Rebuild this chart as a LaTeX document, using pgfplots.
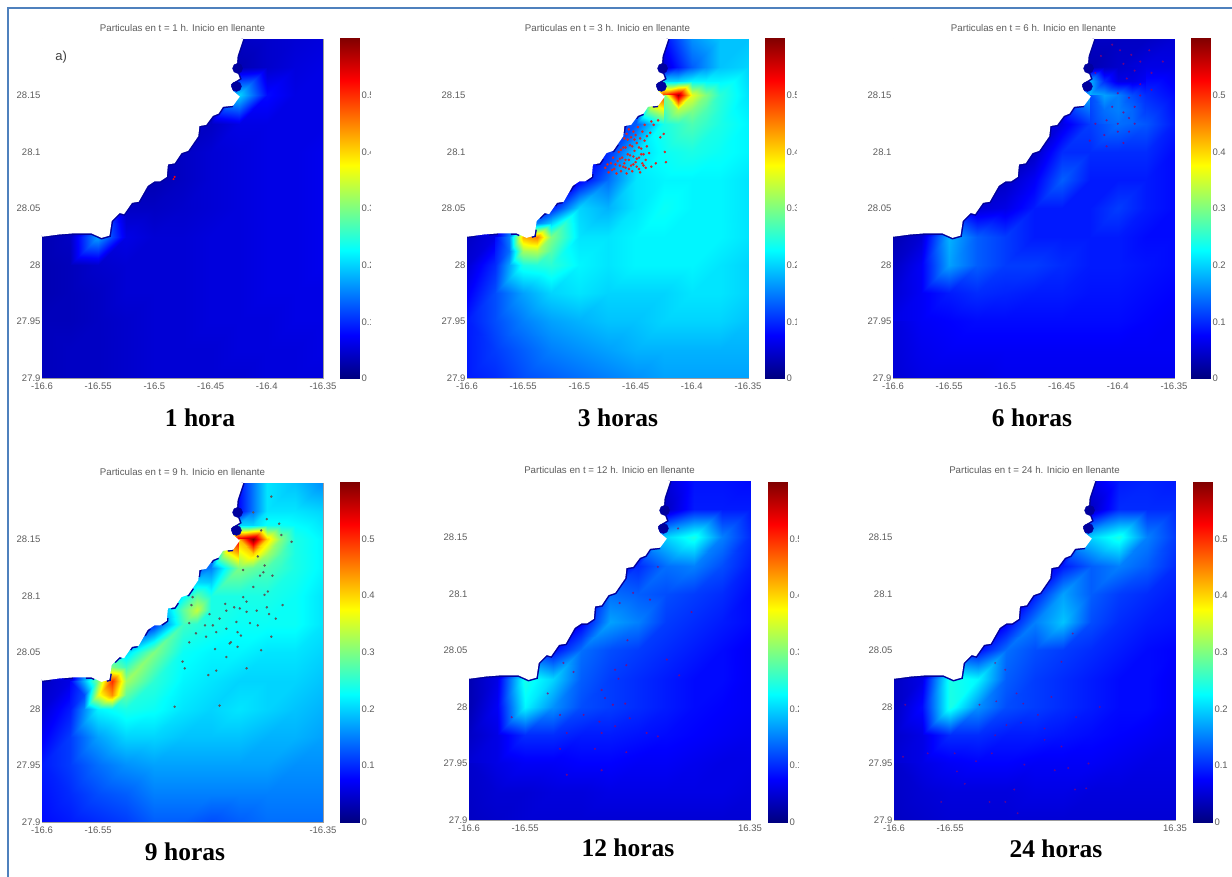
\documentclass[border=0pt]{standalone}
\usepackage{fontspec}
\setmainfont{Liberation Sans}
\newfontfamily\capfont{Liberation Serif}
\usepackage{pgfplots}
\usepackage{pgfplotstable}
\pgfplotsset{compat=1.18}

\definecolor{framecol}{HTML}{4F81BD}
\definecolor{tickcol}{gray}{0.36}
\definecolor{coastcol}{rgb}{0,0,0.62}

% velocity fields, rows from lat 28.2 down to 27.9, lon -16.6 to -16.35 (step 0.025)
\pgfplotstableread[row sep=\\,header=false]{
.05\\.05\\.05\\.05\\.05\\.05\\.05\\.04\\.045\\.05\\.055\\
.05\\.05\\.05\\.05\\.05\\.05\\.05\\.03\\.045\\.055\\.06\\
.05\\.05\\.05\\.05\\.05\\.05\\.05\\.2\\.08\\.06\\.06\\
.05\\.05\\.05\\.05\\.05\\.05\\.04\\.06\\.06\\.06\\.06\\
.05\\.05\\.05\\.05\\.05\\.04\\.05\\.055\\.06\\.06\\.065\\
.05\\.05\\.05\\.05\\.03\\.04\\.05\\.055\\.06\\.06\\.065\\
.05\\.05\\.05\\.04\\.04\\.045\\.05\\.055\\.06\\.06\\.065\\
.03\\.04\\.17\\.06\\.05\\.05\\.055\\.055\\.06\\.06\\.065\\
.03\\.035\\.045\\.05\\.05\\.05\\.055\\.055\\.06\\.06\\.065\\
.03\\.035\\.04\\.05\\.05\\.05\\.055\\.055\\.06\\.06\\.06\\
.035\\.035\\.04\\.045\\.05\\.05\\.055\\.055\\.055\\.06\\.06\\
.035\\.04\\.04\\.045\\.05\\.05\\.05\\.055\\.055\\.055\\.06\\
.035\\.04\\.04\\.045\\.05\\.05\\.05\\.05\\.055\\.055\\.055\\
}\fieldA
\pgfplotstableread[row sep=\\,header=false]{
.1\\.1\\.1\\.1\\.1\\.1\\.1\\.08\\.16\\.19\\.19\\
.1\\.1\\.1\\.1\\.1\\.1\\.1\\.05\\.13\\.19\\.2\\
.1\\.1\\.1\\.1\\.1\\.1\\.1\\.5\\.36\\.25\\.21\\
.1\\.1\\.1\\.1\\.1\\.1\\.13\\.24\\.27\\.24\\.22\\
.1\\.1\\.1\\.1\\.1\\.1\\.2\\.23\\.24\\.23\\.22\\
.1\\.1\\.1\\.1\\.07\\.14\\.21\\.22\\.22\\.22\\.21\\
.1\\.1\\.12\\.09\\.2\\.18\\.21\\.23\\.22\\.22\\.21\\
.04\\.06\\.42\\.3\\.21\\.21\\.22\\.22\\.22\\.22\\.21\\
.05\\.1\\.24\\.25\\.22\\.21\\.22\\.22\\.22\\.21\\.2\\
.07\\.12\\.17\\.2\\.21\\.2\\.2\\.2\\.21\\.21\\.2\\
.09\\.12\\.15\\.17\\.18\\.19\\.19\\.2\\.2\\.2\\.19\\
.09\\.11\\.13\\.15\\.16\\.17\\.18\\.18\\.18\\.18\\.18\\
.09\\.1\\.12\\.13\\.14\\.15\\.16\\.17\\.17\\.17\\.17\\
}\fieldB
\pgfplotstableread[row sep=\\,header=false]{
.05\\.05\\.05\\.05\\.05\\.05\\.05\\.04\\.04\\.04\\.05\\
.05\\.05\\.05\\.05\\.05\\.05\\.05\\.03\\.045\\.06\\.06\\
.05\\.05\\.05\\.05\\.05\\.05\\.05\\.18\\.15\\.1\\.08\\
.05\\.05\\.05\\.05\\.05\\.05\\.06\\.11\\.14\\.125\\.09\\
.05\\.05\\.05\\.05\\.05\\.04\\.1\\.1\\.1\\.1\\.08\\
.05\\.05\\.05\\.05\\.04\\.07\\.13\\.09\\.09\\.09\\.08\\
.05\\.05\\.05\\.05\\.06\\.09\\.09\\.09\\.11\\.09\\.08\\
.03\\.05\\.18\\.13\\.11\\.09\\.09\\.09\\.09\\.08\\.08\\
.04\\.07\\.17\\.13\\.11\\.11\\.1\\.09\\.09\\.085\\.08\\
.05\\.07\\.09\\.1\\.095\\.09\\.09\\.085\\.085\\.08\\.075\\
.06\\.07\\.075\\.08\\.08\\.08\\.08\\.08\\.08\\.075\\.07\\
.055\\.065\\.07\\.07\\.07\\.07\\.07\\.07\\.07\\.07\\.07\\
.05\\.06\\.06\\.06\\.065\\.065\\.065\\.065\\.065\\.065\\.065\\
}\fieldC
\pgfplotstableread[row sep=\\,header=false]{
.1\\.1\\.1\\.1\\.1\\.1\\.1\\.08\\.21\\.19\\.16\\
.1\\.1\\.1\\.1\\.1\\.1\\.1\\.08\\.21\\.21\\.2\\
.1\\.1\\.1\\.1\\.1\\.1\\.1\\.55\\.4\\.24\\.22\\
.1\\.1\\.1\\.1\\.1\\.1\\.15\\.3\\.27\\.24\\.22\\
.1\\.1\\.1\\.1\\.1\\.22\\.24\\.24\\.24\\.23\\.21\\
.1\\.1\\.1\\.1\\.1\\.26\\.24\\.23\\.23\\.23\\.21\\
.1\\.1\\.15\\.2\\.3\\.23\\.22\\.22\\.21\\.21\\.2\\
.04\\.06\\.3\\.32\\.25\\.22\\.21\\.2\\.2\\.2\\.19\\
.05\\.09\\.22\\.24\\.23\\.21\\.2\\.21\\.2\\.19\\.18\\
.07\\.11\\.17\\.2\\.2\\.19\\.19\\.19\\.18\\.18\\.17\\
.09\\.11\\.14\\.16\\.17\\.17\\.17\\.17\\.17\\.16\\.16\\
.09\\.1\\.12\\.13\\.15\\.15\\.15\\.15\\.15\\.15\\.15\\
.08\\.09\\.1\\.11\\.13\\.13\\.12\\.13\\.14\\.14\\.14\\
}\fieldD
\pgfplotstableread[row sep=\\,header=false]{
.05\\.05\\.05\\.05\\.05\\.05\\.05\\.05\\.085\\.085\\.08\\
.05\\.05\\.05\\.05\\.05\\.05\\.05\\.04\\.09\\.09\\.09\\
.05\\.05\\.05\\.05\\.05\\.05\\.05\\.2\\.24\\.15\\.1\\
.05\\.05\\.05\\.05\\.05\\.05\\.1\\.14\\.15\\.12\\.09\\
.05\\.05\\.05\\.05\\.05\\.14\\.13\\.12\\.11\\.1\\.08\\
.05\\.05\\.05\\.05\\.07\\.17\\.15\\.11\\.1\\.09\\.08\\
.05\\.05\\.05\\.08\\.14\\.12\\.11\\.1\\.09\\.08\\.07\\
.03\\.06\\.24\\.2\\.13\\.11\\.1\\.09\\.08\\.08\\.07\\
.03\\.07\\.22\\.16\\.12\\.11\\.1\\.09\\.08\\.075\\.07\\
.04\\.06\\.1\\.1\\.09\\.09\\.085\\.08\\.075\\.07\\.065\\
.05\\.06\\.07\\.07\\.075\\.075\\.07\\.07\\.065\\.06\\.06\\
.045\\.05\\.05\\.055\\.055\\.06\\.06\\.06\\.06\\.06\\.055\\
.04\\.045\\.05\\.05\\.05\\.05\\.05\\.05\\.05\\.05\\.05\\
}\fieldE
\pgfplotstableread[row sep=\\,header=false]{
.05\\.05\\.05\\.05\\.05\\.05\\.05\\.06\\.09\\.095\\.09\\
.05\\.05\\.05\\.05\\.05\\.05\\.05\\.04\\.1\\.1\\.1\\
.05\\.05\\.05\\.05\\.05\\.05\\.05\\.2\\.24\\.15\\.11\\
.05\\.05\\.05\\.05\\.05\\.05\\.09\\.13\\.15\\.13\\.1\\
.05\\.05\\.05\\.05\\.05\\.09\\.17\\.13\\.11\\.1\\.09\\
.05\\.05\\.05\\.05\\.07\\.15\\.19\\.12\\.1\\.09\\.085\\
.05\\.05\\.05\\.08\\.14\\.12\\.11\\.1\\.09\\.08\\.075\\
.04\\.06\\.24\\.22\\.13\\.11\\.1\\.09\\.08\\.08\\.07\\
.04\\.08\\.24\\.16\\.12\\.11\\.1\\.09\\.08\\.08\\.07\\
.045\\.06\\.1\\.1\\.09\\.09\\.085\\.08\\.075\\.07\\.065\\
.05\\.06\\.07\\.075\\.075\\.07\\.07\\.07\\.065\\.06\\.06\\
.045\\.05\\.055\\.055\\.055\\.06\\.06\\.055\\.055\\.055\\.055\\
.04\\.045\\.05\\.05\\.05\\.05\\.05\\.05\\.05\\.05\\.05\\
}\fieldF

% finer patches round the hot spots (step 0.0125), outer ring follows the field
\pgfplotstableread[row sep=\\,header=false]{
.05\\.09\\.13\\.16\\.19\\
.2\\.2\\.22\\.22\\.22\\
.5\\.58\\.36\\.3\\.25\\
.3\\.33\\.3\\.27\\.245\\
.24\\.255\\.27\\.255\\.24\\
}\hotBa
\pgfplotstableread[row sep=\\,header=false]{
.1\\.11\\.12\\.105\\.09\\
.08\\.1\\.2\\.15\\.195\\
.06\\.15\\.42\\.45\\.3\\
.08\\.14\\.32\\.33\\.275\\
.1\\.17\\.24\\.245\\.25\\
}\hotBb
\pgfplotstableread[row sep=\\,header=false]{
.03\\.04\\.045\\.05\\.06\\
.18\\.1\\.06\\.06\\.07\\
.18\\.17\\.15\\.12\\.1\\
.12\\.14\\.15\\.135\\.11\\
.11\\.13\\.14\\.135\\.125\\
}\hotCa
\pgfplotstableread[row sep=\\,header=false]{
.08\\.145\\.21\\.21\\.21\\
.2\\.2\\.23\\.23\\.225\\
.55\\.6\\.4\\.3\\.24\\
.42\\.4\\.32\\.27\\.24\\
.3\\.285\\.27\\.255\\.24\\
}\hotDa
\pgfplotstableread[row sep=\\,header=false]{
.1\\.125\\.15\\.175\\.2\\
.08\\.1\\.2\\.3\\.26\\
.06\\.18\\.3\\.5\\.32\\
.075\\.12\\.36\\.44\\.28\\
.09\\.155\\.22\\.23\\.24\\
}\hotDb
\pgfplotstableread[row sep=\\,header=false]{
.1\\.1\\.1\\.125\\.15\\
.1\\.1\\.1\\.2\\.195\\
.1\\.1\\.22\\.28\\.24\\
.1\\.2\\.28\\.34\\.24\\
.1\\.18\\.26\\.25\\.24\\
}\hotDc

\pgfplotsset{
  panel/.style={
    scale only axis,
    anchor=south west,
    width=281pt,
    height=339pt,
    xmin=-16.6, xmax=-16.35,
    ymin=27.9, ymax=28.2,
    xtick={-16.6,-16.55,-16.5,-16.45,-16.4,-16.35},
    ytick={27.9,27.95,28,28.05,28.1,28.15},
    yticklabels={27.9,27.95,28,28.05,28.1,28.15},
    tick align=inside,
    major tick length=3pt,
    tick style={tickcol!60, thin},
    axis line style={tickcol!60},
    ticklabel style={font=\fontsize{9.5}{10}\selectfont, text=tickcol},
    yticklabel style={xshift=2pt},
    xticklabel style={yshift=-1.5pt},
    title style={font=\fontsize{9.7}{10}\selectfont, text=tickcol, yshift=-2pt},
    colormap/jet,
    point meta min=0, point meta max=0.6,
  },
  cbarpanel/.style={
    scale only axis,
    anchor=south west,
    width=19pt,
    height=340pt,
    xmin=0, xmax=1,
    ymin=0, ymax=0.6,
    xtick=\empty,
    ytick={0,0.1,0.2,0.3,0.4,0.5},
    yticklabels={0,0.1,0.2,0.3,0.4,0.5},
    yticklabel pos=right,
    tick align=inside,
    major tick length=2.5pt,
    tick style={black!70, thin},
    axis line style={tickcol!60},
    yticklabel style={font=\fontsize{9.5}{10}\selectfont, text=tickcol, xshift=-1pt},
    colormap/jet,
    point meta min=0, point meta max=0.6,
  },
  fulltop/.style={xticklabels={-16.6,-16.55,-16.5,-16.45,-16.4,-16.35}},
}

\newcommand{\fieldplot}[1]{%
  \addplot[surf, shader=interp, mesh/cols=11, point meta=explicit, forget plot]
    table[x index=0, y index=0, x expr={-16.6+0.025*mod(\coordindex,11)},
          y expr={28.2-0.025*floor(\coordindex/11)}, meta index=0] {#1};
}
\newcommand{\hotplot}[3]{%
  \addplot[surf, shader=interp, mesh/cols=5, point meta=explicit, forget plot]
    table[x index=0, y index=0, x expr={#1+0.0125*mod(\coordindex,5)},
          y expr={#2-0.0125*floor(\coordindex/5)}, meta index=0] {#3};
}
\newcommand{\cbar}[2]{%
  \begin{axis}[cbarpanel, at={(#1pt,#2pt)}]
  \addplot[surf, shader=interp, mesh/cols=2, point meta=explicit, forget plot]
    coordinates {(0,0) [0] (1,0) [0] (0,0.6) [0.6] (1,0.6) [0.6]};
  \end{axis}%
}
% coast outline, then land painted white over the field
\newcommand{\coastlow}{
  (-16.6,28.025)(-16.585,28.027)(-16.572,28.028)(-16.556,28.028)(-16.547,28.024)
  (-16.54,28.026)(-16.538,28.039)(-16.531,28.046)(-16.527,28.045)(-16.52,28.055)
  (-16.514,28.056)(-16.506,28.07)(-16.5,28.074)(-16.495,28.074)(-16.489,28.078)
  (-16.488,28.089)(-16.482,28.09)(-16.476,28.099)(-16.47,28.101)(-16.461,28.114)
  (-16.46,28.123)(-16.454,28.124)(-16.448,28.132)(-16.443,28.134)(-16.439,28.14)
  (-16.43,28.141)}
\newcommand{\coasthigh}{
  (-16.43,28.154)(-16.432,28.16)(-16.424,28.165)
  (-16.427,28.173)(-16.426,28.185)(-16.423,28.194)(-16.421,28.2)}
\newcommand{\landplot}[1]{%
  \addplot[coastcol, line width=3pt, #1, forget plot] coordinates {\coastlow};
  \addplot[coastcol, line width=3pt, forget plot] coordinates {\coasthigh};
  \addplot[only marks, mark=*, mark size=5pt, coastcol, forget plot]
    coordinates {(-16.427,28.158)(-16.426,28.174)};
  \addplot[draw=none, fill=white, forget plot] coordinates
    {(-16.6,28.2)\coastlow(-16.424,28.149)\coasthigh} -- cycle;
}

\begin{document}
\begin{tikzpicture}
\useasboundingbox (0pt,0pt) rectangle (1232pt,877pt);
\draw[framecol, line width=1.6pt] (8pt,0pt) -- (8pt,869pt) -- (1232pt,869pt);

\begin{axis}[panel, fulltop, at={(42pt,499pt)},
  title={Particulas en t = 1 h. Inicio en llenante}]
\fieldplot{\fieldA}
\landplot{}
\addplot[only marks, mark=*, mark size=0.8pt, red, forget plot]
  coordinates {(-16.482,28.078)(-16.483,28.076)};
\node[anchor=center, text=black!75, font=\fontsize{13}{14}\selectfont] at (axis cs:-16.583,28.184) {a)};
\end{axis}
\cbar{340}{498.5}

\begin{axis}[panel, fulltop, at={(467pt,499pt)},
  title={Particulas en t = 3 h. Inicio en llenante}]
\fieldplot{\fieldB}
\hotplot{-16.425}{28.175}{\hotBa}
\hotplot{-16.575}{28.05}{\hotBb}
\landplot{dash pattern=on 9pt off 13pt}
\addplot[only marks, mark=*, mark size=1.05pt, red!70!gray, forget plot] coordinates {
(-16.477,28.086)(-16.474,28.082)(-16.472,28.090)(-16.470,28.095)(-16.469,28.085)(-16.467,28.081)
(-16.466,28.092)(-16.465,28.100)(-16.464,28.088)(-16.463,28.083)(-16.462,28.095)(-16.461,28.104)
(-16.460,28.090)(-16.459,28.086)(-16.458,28.081)(-16.457,28.098)(-16.456,28.093)(-16.455,28.106)
(-16.454,28.088)(-16.453,28.083)(-16.452,28.096)(-16.451,28.101)(-16.450,28.091)(-16.449,28.087)
(-16.449,28.108)(-16.447,28.095)(-16.446,28.082)(-16.445,28.103)(-16.444,28.090)(-16.443,28.098)
(-16.442,28.110)(-16.441,28.093)(-16.440,28.105)(-16.438,28.099)(-16.436,28.087)(-16.460,28.112)
(-16.458,28.116)(-16.456,28.120)(-16.454,28.113)(-16.452,28.118)(-16.450,28.115)(-16.448,28.122)
(-16.446,28.112)(-16.444,28.118)(-16.442,28.124)(-16.440,28.114)(-16.437,28.117)(-16.434,28.124)
(-16.430,28.128)(-16.428,28.113)(-16.425,28.116)(-16.424,28.100)(-16.423,28.091)(-16.432,28.090)
(-16.436,28.127)(-16.475,28.089)(-16.471,28.084)(-16.468,28.089)(-16.464,28.094)(-16.461,28.087)
(-16.459,28.093)(-16.456,28.085)(-16.455,28.097)(-16.452,28.089)(-16.449,28.094)(-16.447,28.085)
(-16.445,28.098)(-16.463,28.102)(-16.459,28.104)(-16.453,28.105)(-16.457,28.111)(-16.451,28.111)
(-16.447,28.104)(-16.443,28.088)(-16.441,28.086)};
\end{axis}
\cbar{765}{498.5}

\begin{axis}[panel, fulltop, at={(893pt,499pt)},
  title={Particulas en t = 6 h. Inicio en llenante}]
\fieldplot{\fieldC}
\hotplot{-16.425}{28.175}{\hotCa}
\landplot{}
\addplot[only marks, mark=*, mark size=0.9pt, red!55!blue, opacity=0.6, forget plot] coordinates {
(-16.405,28.195)(-16.398,28.19)(-16.388,28.186)(-16.38,28.18)(-16.372,28.19)(-16.36,28.18)
(-16.395,28.178)(-16.385,28.172)(-16.37,28.17)(-16.392,28.165)(-16.38,28.16)(-16.4,28.152)
(-16.39,28.148)(-16.38,28.15)(-16.37,28.155)(-16.405,28.14)(-16.395,28.135)(-16.385,28.14)
(-16.41,28.128)(-16.4,28.125)(-16.39,28.13)(-16.412,28.115)(-16.4,28.118)(-16.39,28.118)
(-16.385,28.125)(-16.42,28.125)(-16.425,28.11)(-16.41,28.105)(-16.395,28.108)(-16.415,28.185)
(-16.42,28.17)};
\end{axis}
\cbar{1191}{498.5}

\begin{axis}[panel, at={(42pt,55pt)},
  xticklabels={-16.6,-16.55,,,,-16.35},
  title={Particulas en t = 9 h. Inicio en llenante}]
\fieldplot{\fieldD}
\hotplot{-16.425}{28.175}{\hotDa}
\hotplot{-16.575}{28.05}{\hotDb}
\hotplot{-16.5}{28.125}{\hotDc}
\landplot{dash pattern=on 9pt off 13pt}
\addplot[only marks, mark=*, mark size=1pt, black!65, forget plot] coordinates {
(-16.405,28.158)(-16.389,28.164)(-16.387,28.154)(-16.378,28.148)(-16.396,28.188)(-16.412,28.174)
(-16.4,28.168)(-16.421,28.123)(-16.408,28.135)(-16.406,28.118)(-16.402,28.127)(-16.395,28.118)
(-16.403,28.121)(-16.412,28.108)(-16.402,28.101)(-16.399,28.104)(-16.386,28.092)(-16.421,28.099)
(-16.418,28.095)(-16.437,28.093)(-16.436,28.087)(-16.429,28.09)(-16.424,28.089)(-16.418,28.086)
(-16.409,28.087)(-16.4,28.09)(-16.398,28.084)(-16.392,28.08)(-16.415,28.076)(-16.408,28.074)
(-16.427,28.077)(-16.442,28.08)(-16.448,28.074)(-16.455,28.074)(-16.436,28.071)(-16.445,28.068)
(-16.463,28.067)(-16.469,28.076)(-16.454,28.064)(-16.426,28.068)(-16.423,28.065)(-16.432,28.059)
(-16.433,28.058)(-16.426,28.055)(-16.446,28.053)(-16.469,28.059)(-16.436,28.046)(-16.475,28.042)
(-16.473,28.036)(-16.418,28.036)(-16.445,28.034)(-16.452,28.03)(-16.405,28.052)(-16.396,28.064)
(-16.442,28.003)(-16.482,28.002)(-16.467,28.092)(-16.466,28.099)(-16.451,28.084)};
\end{axis}
\cbar{340}{54.7}

\begin{axis}[panel, at={(469pt,57pt)},
  xticklabels={-16.6,-16.55,,,,16.35},
  title={Particulas en t = 12 h. Inicio en llenante}]
\fieldplot{\fieldE}
\landplot{}
\addplot[only marks, mark=*, mark size=0.9pt, red!60!blue, opacity=0.55, forget plot] coordinates {
(-16.402,28.084)(-16.414,28.158)(-16.432,28.124)(-16.454,28.101)(-16.439,28.095)(-16.466,28.092)
(-16.459,28.059)(-16.424,28.042)(-16.413,28.028)(-16.516,28.039)(-16.507,28.031)(-16.47,28.033)
(-16.467,28.025)(-16.46,28.037)(-16.482,28.015)(-16.479,28.008)(-16.472,28.002)(-16.461,28.003)
(-16.53,28.012)(-16.519,27.993)(-16.498,27.993)(-16.484,27.987)(-16.47,27.983)(-16.457,27.99)
(-16.482,27.977)(-16.442,27.977)(-16.432,27.974)(-16.519,27.963)(-16.488,27.963)(-16.46,27.96)
(-16.482,27.944)(-16.513,27.977)(-16.562,27.991)(-16.513,27.94)};
\end{axis}
\cbar{768}{54.7}

\begin{axis}[panel, at={(894pt,57pt)},
  xticklabels={-16.6,-16.55,,,,16.35},
  title={Particulas en t = 24 h. Inicio en llenante}]
\fieldplot{\fieldF}
\landplot{}
\addplot[only marks, mark=*, mark size=0.8pt, red!60!blue, opacity=0.45, forget plot] coordinates {
(-16.441,28.065)(-16.51,28.039)(-16.451,28.04)(-16.501,28.033)(-16.524,28.002)(-16.509,28.005)
(-16.485,28.003)(-16.491,28.012)(-16.46,28.009)(-16.417,28)(-16.59,28.002)(-16.5,27.984)
(-16.487,27.986)(-16.472,27.993)(-16.438,27.991)(-16.51,27.975)(-16.466,27.981)(-16.466,27.971)
(-16.451,27.965)(-16.592,27.956)(-16.57,27.959)(-16.546,27.959)(-16.513,27.959)(-16.527,27.952)
(-16.544,27.943)(-16.457,27.944)(-16.445,27.946)(-16.484,27.949)(-16.427,27.95)(-16.537,27.932)
(-16.493,27.927)(-16.439,27.927)(-16.429,27.928)(-16.558,27.916)(-16.515,27.916)(-16.501,27.916)
(-16.49,27.906)};
\end{axis}
\cbar{1193}{54.7}

% these colour bars have their labels cut short in the source
\fill[white] (370.5pt,490pt) rectangle (382pt,850pt);
\fill[white] (796.5pt,490pt) rectangle (808pt,850pt);
\fill[white] (798.5pt,46pt) rectangle (810pt,406pt);

% captions
\begin{scope}[every node/.style={font=\capfont\bfseries\fontsize{25.5}{28}\selectfont, anchor=center}]
\node at (200pt,459pt) {1 hora};
\node at (618pt,459pt) {3 horas};
\node at (1032pt,459pt) {6 horas};
\node at (185pt,25pt) {9 horas};
\node at (628pt,29pt) {12 horas};
\node at (1056pt,28pt) {24 horas};
\end{scope}
\end{tikzpicture}
\end{document}
